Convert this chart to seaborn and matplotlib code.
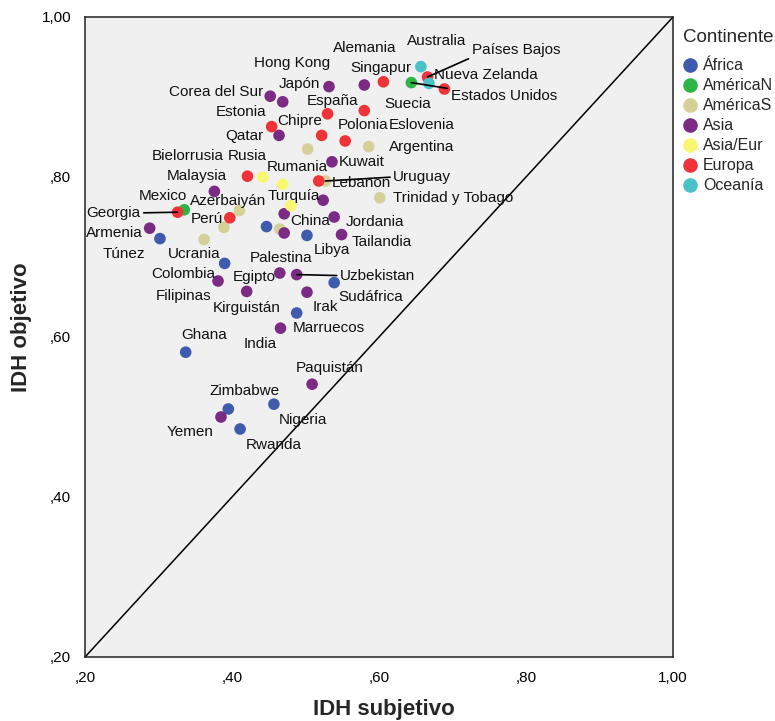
import matplotlib
matplotlib.use("Agg")
import matplotlib.pyplot as plt
import seaborn as sns
import pandas as pd
from matplotlib.lines import Line2D
from matplotlib.ticker import FixedLocator, FuncFormatter

# ---------------- data ----------------
continents = ["África", "AméricaN", "AméricaS", "Asia", "Asia/Eur", "Europa", "Oceanía"]

africa_names = ["Ghana", "Zimbabwe", "Nigeria", "Rwanda", "Marruecos", "Sudáfrica",
                "Libya", "Túnez", "Egipto", ""]
africa_x = [0.337, 0.395, 0.457, 0.411, 0.488, 0.539, 0.502, 0.302, 0.390, 0.447]
africa_y = [0.581, 0.510, 0.516, 0.485, 0.630, 0.668, 0.727, 0.723, 0.692, 0.738]

americaN_names = ["Estados Unidos", "Mexico"]
americaN_x = [0.644, 0.335]
americaN_y = [0.918, 0.759]

americaS_names = ["Argentina", "Uruguay", "Trinidad y Tobago", "Perú", "Colombia", "", "", ""]
americaS_x = [0.586, 0.527, 0.601, 0.389, 0.362, 0.503, 0.410, 0.465]
americaS_y = [0.838, 0.795, 0.774, 0.737, 0.722, 0.835, 0.758, 0.735]

asia_names = ["Japón", "Singapur", "Corea del Sur", "Hong Kong", "Qatar", "Kuwait",
              "Malaysia", "Lebanon", "Azerbaiyán", "China", "Jordania", "Tailandia",
              "Armenia", "Filipinas", "Palestina", "Uzbekistan", "Kirguistán", "Irak",
              "India", "Paquistán", "Yemen"]
asia_x = [0.532, 0.580, 0.452, 0.469, 0.464, 0.536, 0.376, 0.524, 0.471, 0.471, 0.539,
          0.549, 0.288, 0.381, 0.465, 0.488, 0.420, 0.502, 0.466, 0.509, 0.385]
asia_y = [0.913, 0.915, 0.901, 0.894, 0.852, 0.819, 0.782, 0.771, 0.754, 0.730, 0.750,
          0.728, 0.736, 0.670, 0.680, 0.678, 0.657, 0.656, 0.611, 0.541, 0.500]

asiaeur_names = ["Rusia", "Turquía", ""]
asiaeur_x = [0.442, 0.480, 0.469]
asiaeur_y = [0.800, 0.764, 0.791]

europa_names = ["Alemania", "Países Bajos", "Suecia", "Eslovenia", "España", "Estonia",
                "Chipre", "Polonia", "Bielorrusia", "Rumania", "Georgia", "Ucrania"]
europa_x = [0.606, 0.666, 0.689, 0.580, 0.530, 0.454, 0.522, 0.554, 0.421, 0.518, 0.326, 0.397]
europa_y = [0.919, 0.925, 0.910, 0.883, 0.879, 0.863, 0.852, 0.845, 0.801, 0.795, 0.756, 0.749]

oceania_names = ["Australia", "Nueva Zelanda"]
oceania_x = [0.657, 0.668]
oceania_y = [0.938, 0.917]

x_ticks = [0.20, 0.40, 0.60, 0.80, 1.00]
y_ticks = [0.20, 0.40, 0.60, 0.80, 1.00]

# ---------------- styling (not data) ----------------
palette = {"África": "#3F5BAE", "AméricaN": "#2EB548", "AméricaS": "#D5CF98",
           "Asia": "#7B2B84", "Asia/Eur": "#F9F770", "Europa": "#EF3338",
           "Oceanía": "#48C2C6"}

# label offsets in pixels (left edge of text, vertical centre) relative to the point
label_offsets = {
    "Ghana": (-4.7, -17.3), "Zimbabwe": (-19.3, -17.7), "Nigeria": (5, 15.7),
    "Rwanda": (6, 16), "Marruecos": (-3.7, 14.7), "Sudáfrica": (4, 14.2),
    "Libya": (6.3, 14.5), "Túnez": (-57, 15.7), "Egipto": (7.7, 13.4),
    "Japón": (-50.3, -2.7), "Singapur": (-13.5, -17.3), "Corea del Sur": (-101, -4),
    "Hong Kong": (-28.7, -39), "Qatar": (-53.3, 0.7), "Kuwait": (6.3, 0.3),
    "Malaysia": (-48, -15.7), "Lebanon": (8.7, -17), "Azerbaiyán": (-94.3, -12.7),
    "China": (5.7, -12.3), "Jordania": (11.7, 5), "Tailandia": (10.3, 7.2),
    "Armenia": (-64, 4.4), "Filipinas": (-62, 15.3), "Palestina": (-30, -14.6),
    "Uzbekistan": (43.3, 1), "Kirguistán": (-33.7, 16.4), "Irak": (5.3, 14.4),
    "India": (-36.5, 15.7), "Paquistán": (-16, -16.3), "Yemen": (-54, 15.4),
    "Rusia": (-34.7, -20.7), "Turquía": (-22.7, -10), "Alemania": (-50.3, -34),
    "Países Bajos": (44.3, -26.7), "Suecia": (-60.3, 14.7), "Eslovenia": (24.7, 14.3),
    "España": (-20.3, -13), "Estonia": (-55.7, -14.7), "Chipre": (-44.5, -14.3),
    "Polonia": (-7.2, -15.7), "Bielorrusia": (-95.3, -20), "Rumania": (-52, -14),
    "Georgia": (-91.3, 0.7), "Ucrania": (-62, 36.3), "Australia": (-13.7, -25.7),
    "Nueva Zelanda": (5, -8.3), "Estados Unidos": (39.3, 13.3), "Mexico": (-45.3, -14),
    "Argentina": (20, 0.3), "Uruguay": (68, -4), "Trinidad y Tobago": (13, 0.5),
    "Perú": (-33, -8.7), "Colombia": (-53.3, 34.7),
}
# labels joined to their point by a line: relative anchor on the text box
leader_lines = {"Georgia": (1, 0.5), "Países Bajos": (0, 0), "Estados Unidos": (0, 1),
                "Uruguay": (0, 0.5), "Uzbekistan": (0, 0.5)}

# ---------------- build frame ----------------
parts = [
    ("África", africa_names, africa_x, africa_y),
    ("AméricaN", americaN_names, americaN_x, americaN_y),
    ("AméricaS", americaS_names, americaS_x, americaS_y),
    ("Asia", asia_names, asia_x, asia_y),
    ("Asia/Eur", asiaeur_names, asiaeur_x, asiaeur_y),
    ("Europa", europa_names, europa_x, europa_y),
    ("Oceanía", oceania_names, oceania_x, oceania_y),
]
rows = []
for cont, names, xs, ys in parts:
    for n, xv, yv in zip(names, xs, ys):
        rows.append({"pais": n, "IDH subjetivo": xv, "IDH objetivo": yv, "Continente": cont})
df = pd.DataFrame(rows)

# ---------------- plot ----------------
sns.set_style("white")
plt.rcParams["font.family"] = ["Liberation Sans", "DejaVu Sans"]

W, H = 775, 721
fig = plt.figure(figsize=(W / 100, H / 100), dpi=100)
ax = fig.add_axes([85 / W, 1 - 657 / H, 588 / W, 640 / H])
ax.set_facecolor("#F0F0F0")

ax.plot([0.2, 1.0], [0.2, 1.0], color="black", lw=1.1, zorder=2)

sns.scatterplot(data=df, x="IDH subjetivo", y="IDH objetivo", hue="Continente",
                hue_order=continents, palette=palette, s=70, linewidth=0,
                ax=ax, legend=False, zorder=3)

px2pt = 72 / 100
for _, r in df.iterrows():
    n = r["pais"]
    if not n:
        continue
    dx, dy = label_offsets[n]
    kw = {}
    if n in leader_lines:
        kw["arrowprops"] = dict(arrowstyle="-", color="black", lw=1.2,
                                shrinkA=0, shrinkB=0, relpos=leader_lines[n])
    ax.annotate(n, xy=(r["IDH subjetivo"], r["IDH objetivo"]),
                xytext=(dx * px2pt, -dy * px2pt), textcoords="offset points",
                ha="left", va="center", fontsize=11, color="#111111", zorder=4, **kw)

ax.set_xlim(0.2, 1.0)
ax.set_ylim(0.2, 1.0)
fmt = FuncFormatter(lambda v, p: ("%.2f" % v).replace(".", ",").lstrip("0") if v < 1 else ("%.2f" % v).replace(".", ","))
ax.xaxis.set_major_locator(FixedLocator(x_ticks))
ax.yaxis.set_major_locator(FixedLocator(y_ticks))
ax.xaxis.set_major_formatter(fmt)
ax.yaxis.set_major_formatter(fmt)
ax.tick_params(direction="out", length=7, width=1, labelsize=11, pad=3, colors="black")
for sp in ax.spines.values():
    sp.set_color("#222222")
    sp.set_linewidth(1.1)

ax.set_xlabel("IDH subjetivo", fontsize=16, fontweight="bold")
ax.set_ylabel("IDH objetivo", fontsize=16, fontweight="bold")
ax.xaxis.set_label_coords(0.508, -0.066)
ax.yaxis.set_label_coords(-0.090, 0.516)

handles = [Line2D([], [], marker="o", linestyle="", markersize=10.5,
                  markerfacecolor=palette[c], markeredgewidth=0) for c in continents]
leg = ax.legend(handles, continents, title="Continente", loc="upper left",
                bbox_to_anchor=(683 / W, 1 - 29 / H), bbox_transform=fig.transFigure,
                frameon=False, fontsize=11.5, title_fontsize=13.5, borderpad=0,
                handlelength=0.9, handletextpad=0.35, labelspacing=0.31,
                alignment="left", borderaxespad=0)
leg._legend_box.sep = 9

fig.savefig("out.png", dpi=100)
